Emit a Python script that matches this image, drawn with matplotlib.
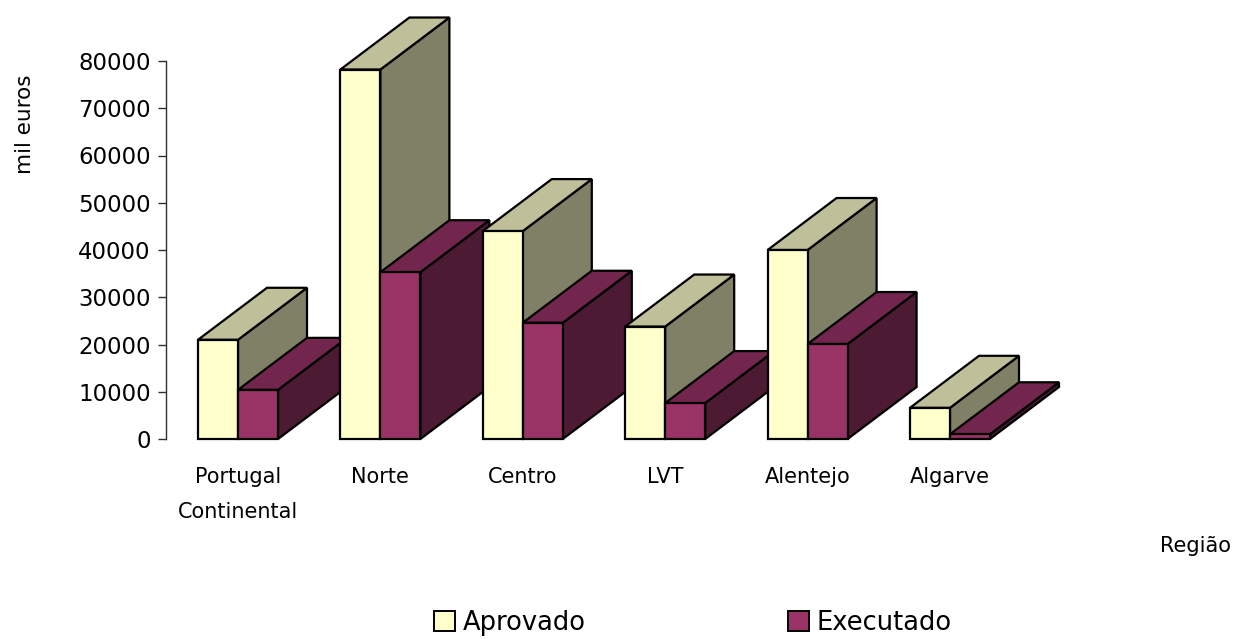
import matplotlib
matplotlib.use("Agg")
import matplotlib.pyplot as plt
from matplotlib.patches import Polygon, Patch

# Data (mil euros)
regioes = ["Portugal\nContinental", "Norte", "Centro", "LVT", "Alentejo", "Algarve"]
aprovado = [21000, 78200, 44000, 23800, 40000, 6600]
executado = [10400, 35300, 24600, 7600, 20100, 1000]
series_names = ["Aprovado", "Executado"]
yticks = [0, 10000, 20000, 30000, 40000, 50000, 60000, 70000, 80000]

# Face colours: front, top (darker), side (darkest)
colors = {
    "Aprovado": ("#FFFFCC", "#BFBF99", "#808066"),
    "Executado": ("#993366", "#73264D", "#4D1A33"),
}

W, H = 1238, 639
fig = plt.figure(figsize=(W / 100, H / 100), dpi=100)
plt.rcParams["font.family"] = ["DejaVu Sans"]

# axes geometry in pixels
ax_left_px, ax_bottom_px, ax_w_px, ax_h_px = 166, 200, 934, 378
ax = fig.add_axes([ax_left_px / W, ax_bottom_px / H, ax_w_px / W, ax_h_px / H])

cat_step_px = 142.4
first_center_px = 238
x0 = -(first_center_px - ax_left_px) / cat_step_px
ax.set_xlim(x0, x0 + ax_w_px / cat_step_px)
ax.set_ylim(0, 80000)

# bar width and 3D depth, expressed in data units
bar_w = 40 / cat_step_px
depth_dx = 69 / cat_step_px
depth_dy = 52 / ax_h_px * 80000

lw = 1.6
z = 2
for i in range(len(regioes)):
    for j, (name, vals) in enumerate(zip(series_names, [aprovado, executado])):
        v = vals[i]
        left = i - bar_w + j * bar_w
        right = left + bar_w
        front_c, top_c, side_c = colors[name]
        front = [(left, 0), (right, 0), (right, v), (left, v)]
        top = [(left, v), (right, v), (right + depth_dx, v + depth_dy),
               (left + depth_dx, v + depth_dy)]
        side = [(right, 0), (right + depth_dx, depth_dy),
                (right + depth_dx, v + depth_dy), (right, v)]
        for pts, c in ((side, side_c), (top, top_c), (front, front_c)):
            ax.add_patch(Polygon(pts, closed=True, facecolor=c, edgecolor="black",
                                 linewidth=lw, joinstyle="miter", clip_on=False,
                                 zorder=z))
        z += 1

# axes styling
for s in ("top", "right", "bottom"):
    ax.spines[s].set_visible(False)
ax.spines["left"].set_color("#303030")
ax.spines["left"].set_linewidth(1.0)
ax.set_yticks(yticks)
ax.set_yticklabels([str(t) for t in yticks], fontsize=16.5)
ax.tick_params(axis="y", length=6, width=1.0, color="#303030", pad=5)
ax.set_xticks(range(len(regioes)))
ax.set_xticklabels(regioes, fontsize=15)
ax.tick_params(axis="x", length=0, pad=20)
for lab in ax.get_xticklabels():
    lab.set_linespacing(1.95)

fig.text(25 / W, 1 - 124 / H, "mil euros", rotation=90, ha="center", va="center",
         fontsize=15.5)
fig.text(1195 / W, 1 - 546 / H, "Região", ha="center", va="center", fontsize=15)

handles = [Patch(facecolor=colors[n][0], edgecolor="black", linewidth=1.4)
           for n in series_names]
fig.legend(handles, series_names, loc="center", bbox_to_anchor=(693 / W, 1 - 623 / H),
           ncol=2, frameon=False, fontsize=18.5, handlelength=0.8, handleheight=0.8,
           handletextpad=0.3, columnspacing=7.9, borderpad=0)

fig.savefig("out.png", dpi=100, facecolor="white")
